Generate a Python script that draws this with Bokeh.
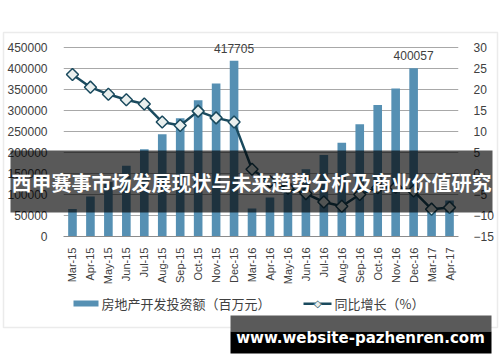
import numpy as np
from bokeh.plotting import figure
from bokeh.models import (ColumnDataSource, Range1d, LinearAxis, FixedTicker,
                          BasicTickFormatter, BoxAnnotation, Label, FactorRange)
from bokeh.core.properties import value
from bokeh.embed import file_html
from bokeh.resources import INLINE

# ---- data ----
months = ["Mar-15", "Apr-15", "May-15", "Jun-15", "Jul-15", "Aug-15", "Sep-15",
          "Oct-15", "Nov-15", "Dec-15", "Mar-16", "Apr-16", "May-16", "Jun-16",
          "Jul-16", "Aug-16", "Sep-16", "Oct-16", "Nov-16", "Dec-16", "Mar-17", "Apr-17"]
investment = [65600, 95000, 130000, 168000, 207700, 243000, 281000, 323700, 364000, 417705,
              66300, 93000, 127000, 160000, 194000, 223000, 267000, 312600, 352000, 400057,
              61000, 85500]
growth = [23.5, 20.5, 18.8, 17.5, 16.5, 12.2, 11.4, 14.8, 13.2, 12.2,
          1.0, -2.0, -3.5, -4.8, -6.8, -7.8, -5.0, -3.4, -3.3, -4.2,
          -8.5, -8.1]
labeled_months = ["Dec-15", "Dec-16"]
left_ticks = [0, 50000, 100000, 150000, 200000, 250000, 300000, 350000, 400000, 450000]
right_ticks = [-15, -10, -5, 0, 5, 10, 15, 20, 25, 30]
bar_name = "房地产开发投资额（百万元）"
line_name = "同比增长（%）"
title_text = "西甲赛事市场发展现状与未来趋势分析及商业价值研究"
watermark = "www.website-pazhenren.com"

BAR = "#5690b3"
LINE = "#1a4a5e"
TXT = "#404040"
FONT = "Liberation Sans"
CJK = "Noto Sans CJK SC"
W, H = 500, 362
ABS = {"position": "absolute", "top": "0px", "left": "0px"}

# frame spans 36..236 px; axis max ticks (450000 / 30) sit ~10.7 px below its top,
# leaving head-room for the value labels
TOP, BOTTOM = 36, 126
head = 200.0 / 189.3
left_end = 450000 * head
right_end = -15 + 45 * head

src = ColumnDataSource(dict(month=months, inv=investment, g=growth))
lab_idx = [months.index(m) for m in labeled_months]
lab_src = ColumnDataSource(dict(month=labeled_months,
                                inv=[investment[i] for i in lab_idx],
                                txt=[str(investment[i]) for i in lab_idx]))

# ---------------- main chart ----------------
p = figure(x_range=FactorRange(*months), y_range=Range1d(0, left_end),
           width=W, height=H, output_backend="svg", toolbar_location=None,
           min_border_left=63, min_border_right=42, min_border_top=TOP,
           min_border_bottom=BOTTOM, styles=ABS)
p.extra_y_ranges = {"pct": Range1d(-15, right_end)}
p.outline_line_color = None
p.background_fill_color = "white"
p.border_fill_color = "white"

p.vbar(x="month", top="inv", width=0.48, source=src, fill_color=BAR, line_color=None)
p.line(x="month", y="g", y_range_name="pct", source=src, line_color=LINE, line_width=2.5)
p.scatter(x="month", y="g", y_range_name="pct", source=src, marker="square", angle=np.pi / 4,
          size=8.5, fill_color="#e9efee", line_color=LINE, line_width=1.5)
p.text(x="month", y="inv", text="txt", source=lab_src, text_align="center",
       text_baseline="bottom", y_offset=-8, text_font=value(FONT),
       text_font_size="12px", text_color=TXT)

p.xgrid.visible = False
p.ygrid.ticker = FixedTicker(ticks=left_ticks)
p.ygrid.grid_line_color = "#a8a8a8"

ya = p.yaxis[0]
ya.ticker = FixedTicker(ticks=left_ticks)
ya.formatter = BasicTickFormatter(use_scientific=False)
ya.axis_line_color = None
ya.major_tick_line_color = None
ya.minor_tick_line_color = None
ya.major_label_standoff = 10
ya.major_label_text_font = FONT
ya.major_label_text_font_size = "12px"
ya.major_label_text_color = TXT

ra = LinearAxis(y_range_name="pct", ticker=FixedTicker(ticks=right_ticks))
ra.axis_line_color = None
ra.major_tick_line_color = None
ra.minor_tick_line_color = None
ra.major_label_standoff = 9
ra.major_label_text_font = FONT
ra.major_label_text_font_size = "12px"
ra.major_label_text_color = TXT
p.add_layout(ra, "right")

xa = p.xaxis[0]
xa.major_label_orientation = np.pi / 2
xa.axis_line_color = "#8c8c8c"
xa.major_tick_line_color = None
xa.minor_tick_line_color = None
xa.major_label_standoff = 5
xa.major_label_text_font = FONT
xa.major_label_text_font_size = "11px"
xa.major_label_text_color = TXT

# ---------------- overlay (frame, legend, banner, watermark) ----------------
o = figure(width=W, height=H, x_range=Range1d(0, W), y_range=Range1d(H, 0),
           x_axis_location=None, y_axis_location=None, min_border=0,
           output_backend="svg", toolbar_location=None, styles=ABS)
o.background_fill_color = None
o.border_fill_color = None
o.outline_line_color = None
o.xgrid.visible = False
o.ygrid.visible = False

def box(l, r, t, b, **kw):
    return BoxAnnotation(left=l, right=r, top=t, bottom=b, **kw)

def label(x, y, text, **kw):
    return Label(x=x, y=y, text=text, text_baseline="middle", **kw)

o.add_layout(box(3, 497, 32, 327, fill_alpha=0, line_color="#bdbdbd", line_width=1.5))

# legend
o.add_layout(box(73, 98, 300, 306, fill_color=BAR, fill_alpha=1, line_color=None))
o.add_layout(label(101, 303, bar_name, text_align="left", text_font=CJK,
                   text_font_size="13px", text_color=TXT))
o.add_layout(box(303, 331, 302, 304.5, fill_color=LINE, fill_alpha=1, line_color=None))
o.add_layout(label(317, 303, "◆", text_align="center", text_font="DejaVu Sans",
                   text_font_size="10px", text_color="#e9efee"))
o.add_layout(label(317, 303, "◇", text_align="center", text_font="DejaVu Sans",
                   text_font_size="10px", text_color=LINE))
o.add_layout(label(334, 303, line_name, text_align="left", text_font=CJK,
                   text_font_size="13px", text_color=TXT))

# banner overlay
o.add_layout(box(10, 492, 150, 212, fill_color="black", fill_alpha=0.65, line_color=None))
o.add_layout(label(251, 182, title_text, text_align="center", text_font=CJK,
                   text_font_style="bold", text_font_size="20px", text_color="white"))

# watermark
o.add_layout(box(230, 491, 315, 331, fill_color="#5a5a5a", fill_alpha=1, line_color=None))
o.add_layout(box(230, 491, 331, 353, fill_color="black", fill_alpha=1, line_color=None))
o.add_layout(label(360, 337, watermark, text_align="center", text_font="DejaVu Sans",
                   text_font_style="bold", text_font_size="15px", text_color="white"))

open("out.html", "w").write(file_html([p, o], INLINE))
